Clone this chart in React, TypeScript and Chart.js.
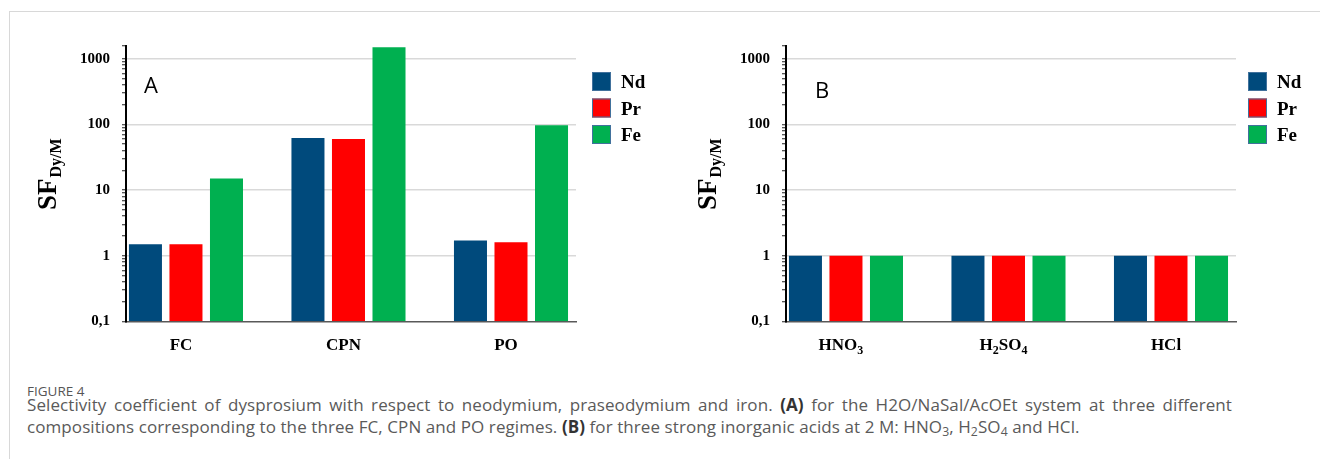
import React, { useEffect, useRef } from 'react';
import { Chart, registerables } from 'chart.js';

Chart.register(...registerables);

// ---- data ----
const seriesNames = ['Nd', 'Pr', 'Fe'];
const seriesColors = ['#004A7C', '#FF0000', '#00B050'];

const categoriesA = ['FC', 'CPN', 'PO'];
const ndA = [1.5, 62, 1.7];
const prA = [1.5, 60, 1.6];
const feA = [15, 1500, 97];

const categoriesB = ['HNO3', 'H2SO4', 'HCl'];
const ndB = [1, 1, 1];
const prB = [1, 1, 1];
const feB = [1, 1, 1];

const yTickValues = [0.1, 1, 10, 100, 1000];
const yTickLabels = ['0,1', '1', '10', '100', '1000'];
const yMin = 0.1;
const yMax = 1600;

const SERIF = '"Liberation Serif", "Times New Roman", serif';
const SANS = '"Open Sans", "Noto Sans", sans-serif';

function labelFor(v: number): string {
  for (let i = 0; i < yTickValues.length; i++) {
    if (Math.abs(v - yTickValues[i]) < 1e-9 * yTickValues[i]) return yTickLabels[i];
  }
  return '';
}

function drawRich(ctx: CanvasRenderingContext2D, text: string, cx: number, baseline: number, size: number) {
  const parts = text.split(/(\d+)/).filter((p) => p.length > 0);
  const big = `bold ${size}px ${SERIF}`;
  const small = `bold ${Math.round(size * 0.68)}px ${SERIF}`;
  let total = 0;
  const widths: number[] = [];
  parts.forEach((p) => {
    ctx.font = /^\d+$/.test(p) ? small : big;
    const w = ctx.measureText(p).width;
    widths.push(w);
    total += w;
  });
  let x = cx - total / 2;
  ctx.textAlign = 'left';
  ctx.textBaseline = 'alphabetic';
  parts.forEach((p, i) => {
    const sub = /^\d+$/.test(p);
    ctx.font = sub ? small : big;
    ctx.fillText(p, x, baseline + (sub ? size * 0.22 : 0));
    x += widths[i];
  });
}

type PanelProps = {
  left: number;
  categories: string[];
  series: number[][];
  letter: string;
  letterX: number;
  letterY: number;
  legendX: number;
};

const W = 660;
const H = 370;

function Panel({ left, categories, series, letter, letterX, letterY, legendX }: PanelProps) {
  const ref = useRef<HTMLCanvasElement | null>(null);

  useEffect(() => {
    if (!ref.current) return;
    const overlay = {
      id: 'overlay' + letter,
      afterDraw(chart: any) {
        const ctx: CanvasRenderingContext2D = chart.ctx;
        ctx.save();
        ctx.fillStyle = '#000';
        // y title SF_Dy/M
        ctx.save();
        ctx.translate(56, 210);
        ctx.rotate(-Math.PI / 2);
        ctx.textAlign = 'left';
        ctx.textBaseline = 'alphabetic';
        ctx.font = `bold 27px ${SERIF}`;
        ctx.fillText('SF', 0, 0);
        const w = ctx.measureText('SF').width;
        ctx.font = `bold 16px ${SERIF}`;
        ctx.fillText('Dy/M', w + 1, 5);
        ctx.restore();

        // panel letter
        ctx.font = `22px ${SANS}`;
        ctx.textAlign = 'left';
        ctx.textBaseline = 'alphabetic';
        ctx.fillText(letter, letterX, letterY);

        // x category labels
        const xs = chart.scales.x;
        categories.forEach((c, i) => {
          drawRich(ctx, c, xs.getPixelForValue(i) - 5, 350, 17);
        });

        // legend
        chart.data.datasets.forEach((ds: any, i: number) => {
          const top = 72 + i * 26.5;
          ctx.fillStyle = ds.backgroundColor;
          ctx.fillRect(legendX, top, 19, 19);
          ctx.strokeStyle = '#41719C';
          ctx.lineWidth = 1;
          ctx.strokeRect(legendX + 0.5, top + 0.5, 18, 18);
          ctx.fillStyle = '#000';
          ctx.font = `bold 19px ${SERIF}`;
          ctx.textAlign = 'left';
          ctx.fillText(ds.label, legendX + 29, top + 16);
        });
        ctx.restore();
      },
    };

    const chart = new Chart(ref.current, {
      type: 'bar',
      data: {
        datasets: series.map((vals, s) => ({
          label: seriesNames[s],
          data: categories.map((_c, i) => ({ x: i, y: vals[i] })),
          backgroundColor: seriesColors[s],
          borderWidth: 0,
          categoryPercentage: 0.748,
          barPercentage: 0.815,
        })),
      },
      options: {
        responsive: false,
        animation: false,
        devicePixelRatio: 1,
        layout: { padding: { top: 45.5, right: 84, bottom: H - 321.3, left: 0 } },
        plugins: { legend: { display: false }, tooltip: { enabled: false } },
        scales: {
          x: {
            type: 'linear',
            bounds: 'data',
            min: -0.369,
            max: 2.4,
            offset: false,
            afterBuildTicks: (s: any) => {
              s.ticks = categories.map((_c, i) => ({ value: i }));
            },
            ticks: { display: false },
            grid: { display: false, drawTicks: false },
            border: { display: true, color: '#595959', width: 1.5 },
          },
          y: {
            type: 'logarithmic',
            bounds: 'data',
            min: yMin,
            max: yMax,
            afterFit: (s: any) => {
              s.width = 126;
            },
            afterBuildTicks: (s: any) => {
              const t: { value: number }[] = [];
              for (let e = -1; e <= 3; e++) {
                for (let k = 1; k <= 9; k++) {
                  const v = e < 0 ? Math.round(k * 10 ** e * 10) / 10 : k * 10 ** e;
                  if (v <= yMax) t.push({ value: v });
                }
              }
              t.push({ value: yMax });
              s.ticks = t;
            },
            ticks: {
              autoSkip: false,
              padding: 12,
              color: '#000',
              font: { family: 'Liberation Serif', size: 15, weight: 'bold' },
              callback: (v: any) => labelFor(Number(v)),
            },
            grid: {
              drawTicks: true,
              tickLength: 4,
              tickColor: '#222',
              tickWidth: 1,
              lineWidth: 1.5,
              color: (c: any) => {
                const v = c.tick ? c.tick.value : 0;
                const l = labelFor(v);
                return l && v > 0.5 ? '#D9D9D9' : 'rgba(0,0,0,0)';
              },
            },
            border: { display: true, color: '#000', width: 2 },
          },
        },
      } as any,
      plugins: [overlay],
    } as any);
    return () => chart.destroy();
  }, []);

  return (
    <canvas
      ref={ref}
      width={W}
      height={H}
      style={{ position: 'absolute', left, top: 0, width: W, height: H }}
    />
  );
}

export default function App() {
  const sub = { fontSize: '0.72em', verticalAlign: '-0.25em', lineHeight: 0 } as React.CSSProperties;
  return (
    <div
      style={{
        position: 'absolute',
        left: 0,
        top: 0,
        width: 1320,
        height: 459,
        overflow: 'hidden',
        background: '#fff',
      }}
    >
      <div
        style={{
          position: 'absolute',
          left: 9,
          top: 11,
          width: 1400,
          height: 500,
          borderTop: '1.5px solid #D8D8D8',
          borderLeft: '1.5px solid #D8D8D8',
        }}
      />
      <Panel
        left={0}
        categories={categoriesA}
        series={[ndA, prA, feA]}
        letter="A"
        letterX={144}
        letterY={93}
        legendX={592}
      />
      <Panel
        left={660}
        categories={categoriesB}
        series={[ndB, prB, feB]}
        letter="B"
        letterX={155}
        letterY={98}
        legendX={588}
      />
      <div
        style={{
          position: 'absolute',
          left: 27,
          top: 384,
          fontFamily: SANS,
          fontSize: 13.5,
          lineHeight: '14px',
          color: '#555',
          whiteSpace: 'nowrap',
        }}
      >
        FIGURE 4
      </div>
      <div
        style={{
          position: 'absolute',
          left: 27,
          top: 394,
          width: 1205,
          fontFamily: SANS,
          fontSize: 17,
          letterSpacing: '0.08px',
          lineHeight: '22px',
          color: '#5A5A5A',
        }}
      >
        <div style={{ textAlign: 'justify', textAlignLast: 'justify', whiteSpace: 'normal' } as React.CSSProperties}>
          Selectivity coefficient of dysprosium with respect to neodymium, praseodymium and iron.{' '}
          <b style={{ color: '#333' }}>(A)</b> for the H2O/NaSal/AcOEt system at three different
        </div>
        <div style={{ whiteSpace: 'nowrap' }}>
          compositions corresponding to the three FC, CPN and PO regimes. <b style={{ color: '#333' }}>(B)</b> for
          three strong inorganic acids at 2 M: HNO<span style={sub}>3</span>, H<span style={sub}>2</span>SO
          <span style={sub}>4</span> and HCl.
        </div>
      </div>
    </div>
  );
}
